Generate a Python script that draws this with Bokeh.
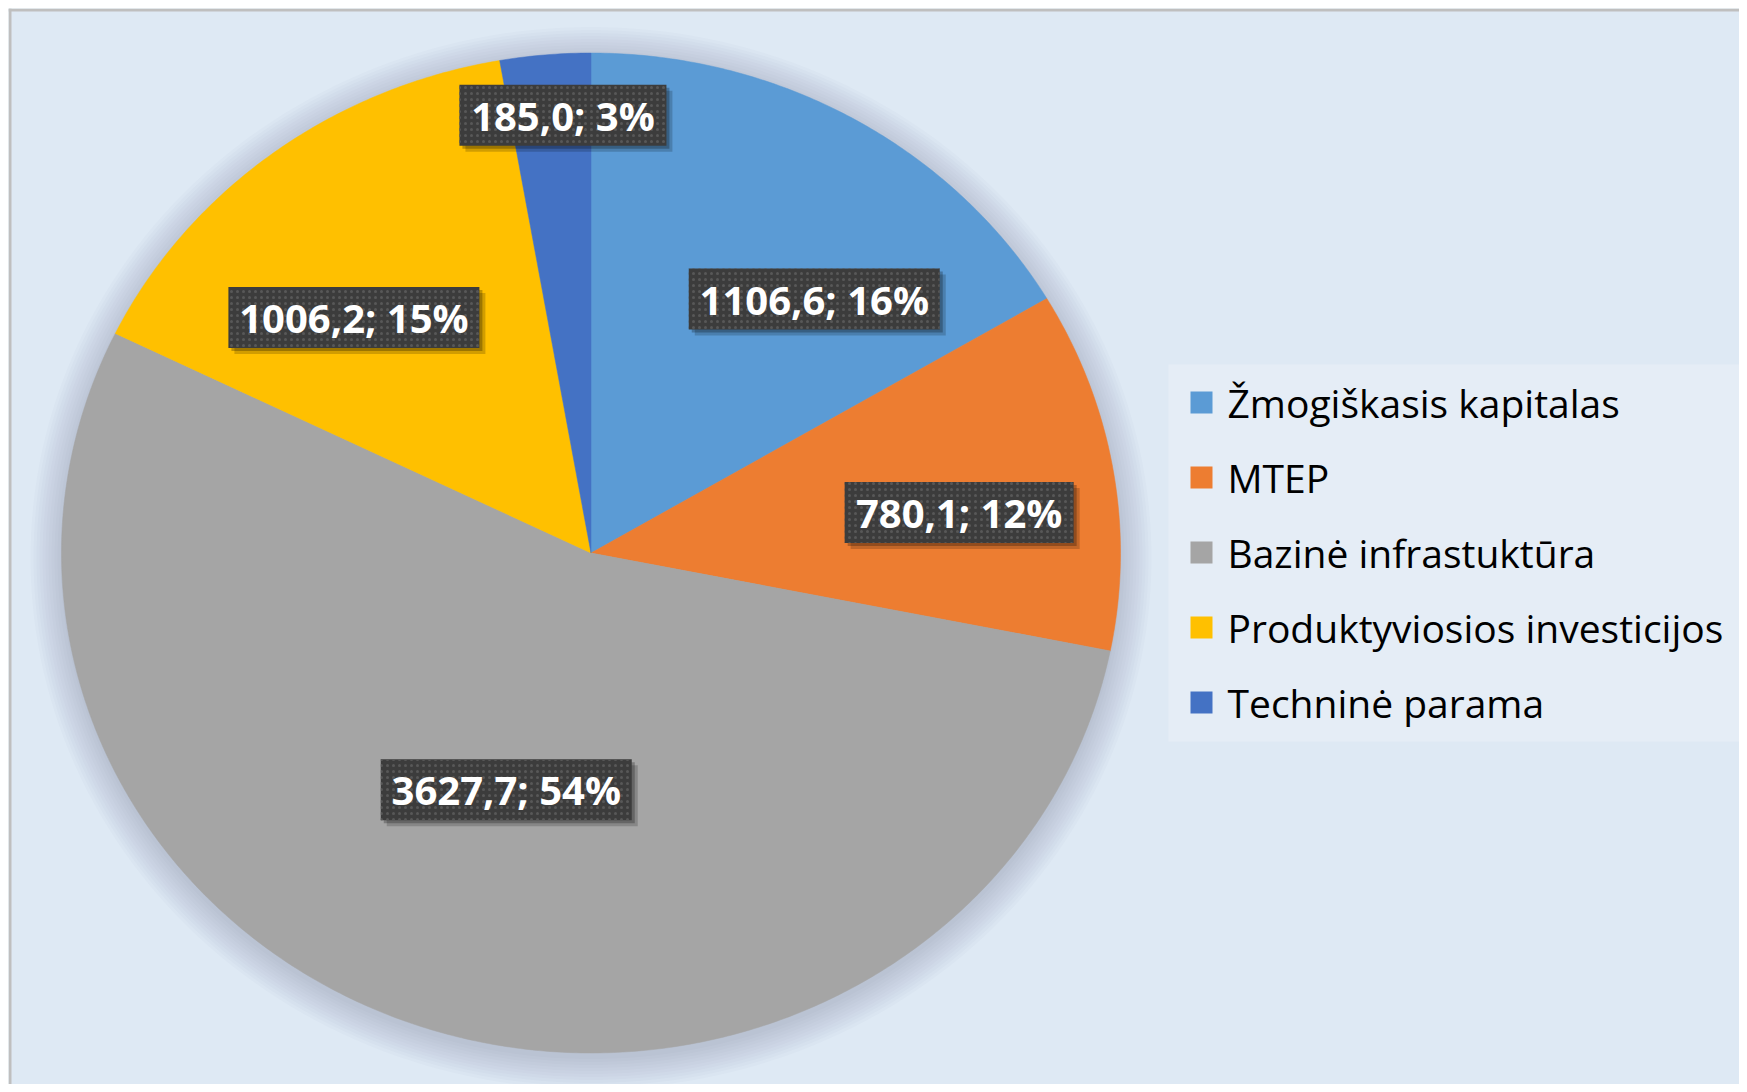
import numpy as np
from bokeh.plotting import figure
from bokeh.models import Range1d, ColumnDataSource, Span
from bokeh.embed import file_html
from bokeh.resources import INLINE
from bokeh.core.properties import value

# ---- data ----
categories = ["Žmogiškasis kapitalas", "MTEP", "Bazinė infrastuktūra",
              "Produktyviosios investicijos", "Techninė parama"]
amounts = [1106.6, 780.1, 3627.7, 1006.2, 185.0]
percents = [16, 12, 54, 15, 3]
colors = ["#5B9BD5", "#ED7D31", "#A5A5A5", "#FFC000", "#4472C4"]

# ---- layout (pixel-like data space: x = screen x, y = H - screen y) ----
W, H = 1739, 1084
M = 8
CX, CY = 590.5, H - 552.5
RX, RY = 529.5, 500
label_shift_deg = [10.0, 3.0, 0.0, -6.6, 1.5]
label_radius = [0.66, 0.70, 0.50, 0.65, 0.877]
LEG_LEFT, LEG_TOP, LEG_BOTTOM = 1168, 364, 741
LEG_FIRST, LEG_STEP = 38, 75
LEG_SQ_X, LEG_TXT_X = 1201, 1227

p = figure(width=W, height=H, x_range=Range1d(M, W), y_range=Range1d(0, H - M),
           output_backend="svg", toolbar_location=None,
           min_border_left=M, min_border_top=M, min_border_right=0, min_border_bottom=0,
           x_axis_location=None, y_axis_location=None)
p.grid.visible = False
p.background_fill_color = "#DEE9F4"
p.border_fill_color = "white"
p.outline_line_color = None

# soft shadow behind the pie
t = np.linspace(0, 2 * np.pi, 240)
for k in range(1, 34, 3):
    p.patch(CX + (RX + k) * np.sin(t), CY - 5 + (RY + k) * np.cos(t),
            fill_color="#4f6478", fill_alpha=0.022, line_color=None)

# slices, clockwise from 12 o'clock
vals = np.array(amounts)
fr = vals / vals.sum()
ends = np.cumsum(fr) * 2 * np.pi
starts = ends - fr * 2 * np.pi
for i in range(len(vals)):
    n = max(8, int(fr[i] * 720))
    a = np.linspace(starts[i], ends[i], n)
    xs = np.concatenate([[CX], CX + RX * np.sin(a)])
    ys = np.concatenate([[CY], CY + RY * np.cos(a)])
    p.patch(xs, ys, fill_color=colors[i], line_color=colors[i], line_width=0.5)

# data labels
texts = [f"{v:.1f}".replace(".", ",") + f"; {pc}%" for v, pc in zip(amounts, percents)]
mids = (starts + ends) / 2 + np.radians(label_shift_deg)
lx = CX + np.array(label_radius) * RX * np.sin(mids)
ly = CY + np.array(label_radius) * RY * np.cos(mids)
bw = [22 * len(s) + 9 for s in texts]
src = ColumnDataSource(dict(x=lx, y=ly, sx=lx + 6, sy=ly - 6, sx2=lx + 3, sy2=ly - 3, w=bw, t=texts))
p.rect("sx", "sy", width="w", height=61, width_units="screen", height_units="screen",
       source=src, fill_color="black", fill_alpha=0.18, line_color=None)
p.rect("sx2", "sy2", width="w", height=61, width_units="screen", height_units="screen",
       source=src, fill_color="black", fill_alpha=0.25, line_color=None)
p.rect("x", "y", width="w", height=61, width_units="screen", height_units="screen",
       source=src, fill_color="#3c3c3c", line_color=None,
       hatch_pattern="dot", hatch_color="#585858", hatch_scale=6, hatch_weight=1)
p.text("x", "y", text="t", source=src, text_color="white",
       text_font=value("Open Sans"), text_font_style="bold", text_font_size="40px",
       text_align="center", text_baseline="middle")

# chart border (top and left visible)
p.add_layout(Span(location=H - M - 1.5, dimension="width", line_color="#BFBFBF", line_width=3))
p.add_layout(Span(location=M + 1.5, dimension="height", line_color="#BFBFBF", line_width=3))

# legend
p.quad(left=LEG_LEFT, right=W, top=H - LEG_TOP, bottom=H - LEG_BOTTOM,
       fill_color="#E5EDF6", line_color=None)
leg_y = [H - (LEG_TOP + LEG_FIRST + LEG_STEP * i) for i in range(len(categories))]
leg = ColumnDataSource(dict(y=leg_y, c=colors, t=categories,
                            sx=[LEG_SQ_X] * len(categories), tx=[LEG_TXT_X] * len(categories)))
p.rect("sx", "y", width=22, height=22, width_units="screen", height_units="screen",
       source=leg, fill_color="c", line_color=None)
p.text("tx", "y", text="t", source=leg, text_color="#000000",
       text_font=value("Open Sans"), text_font_size="39px",
       text_align="left", text_baseline="middle")

open("out.html", "w").write(file_html(p, INLINE))
